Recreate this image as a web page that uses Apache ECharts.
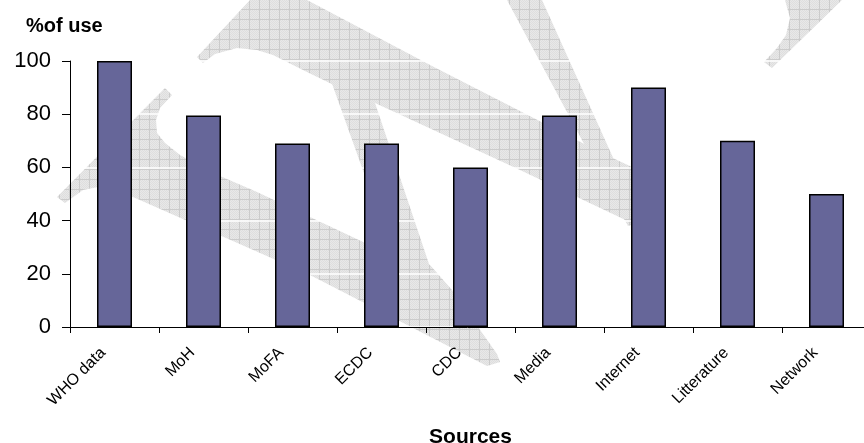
<!DOCTYPE html>
<html><head><meta charset="utf-8">
<script src="https://cdn.jsdelivr.net/npm/echarts@6/dist/echarts.min.js"></script>
<style>html,body{margin:0;padding:0;background:#fff}#c{width:864px;height:443px}</style>
</head><body><div id="c"></div>
<script>
const categories = ['WHO data','MoH','MoFA','ECDC','CDC','Media','Internet','Litterature','Network'];
const useValues = [100, 79.5, 69, 69, 60, 79.5, 90, 70, 50];
const yTicks = [0, 20, 40, 60, 80, 100];
const yTitle = '%of use';
const xTitle = 'Sources';

// watermark texture
const pc = document.createElement('canvas'); pc.width = 10; pc.height = 10;
const g = pc.getContext('2d');
g.fillStyle = '#e8e8e8'; g.fillRect(0,0,10,10);
g.fillStyle = '#dedede';
for (let i=0;i<10;i++) for (let j=0;j<10;j++) if ((i+j)%2===0) g.fillRect(i,j,1,1);
g.fillStyle = '#cbcbcb'; g.fillRect(9,0,1,10); g.fillRect(0,9,10,1);
const wmFill = {image: pc, repeat: 'repeat'};

const wmShapes = [
  [[250,0],[307,0],[432,66],[600,152],[634,168],[634,224],[520,170],[375,103],[340,88],[307,72],[273,55],[257,50],[237,48],[215,54],[203,63],[197,57]],
  [[507,0],[542,0],[642,222],[628,226]],
  [[330,78],[375,103],[432,273],[395,260]],
  [[165,88],[57,197],[65,203],[83,190],[98,187],[115,190],[133,197],[310,275],[487,366],[500,362],[497,354],[452,290],[430,265],[397,258],[310,217],[257,192],[213,173],[180,155],[165,143],[157,133],[156,120],[160,108],[172,95]],
  [[785,0],[842,0],[772,68],[764,62],[777,48],[786,35],[790,18]]
];

const chart = echarts.init(document.getElementById('c'));
chart.setOption({
  animation: false,
  backgroundColor: '#fff',
  textStyle: {fontFamily: "'Liberation Sans', Arial, sans-serif"},
  title: {text: yTitle, left: 21, top: 11, textStyle: {fontSize: 20, fontWeight: 'bold', color: '#000', fontFamily: "'Liberation Sans', Arial, sans-serif"}},
  graphic: wmShapes.map(p => ({type: 'polygon', silent: true, z: -10, shape: {points: p}, style: {fill: wmFill}})),
  grid: {left: 70, right: -7, top: 61, bottom: 116, containLabel: false, outerBoundsMode: 'none'},
  xAxis: {
    type: 'category', data: categories, boundaryGap: true,
    name: xTitle, nameLocation: 'middle', nameGap: 100,
    nameTextStyle: {fontSize: 21, fontWeight: 'bold', color: '#000'},
    axisLine: {lineStyle: {color: '#000', width: 1}},
    axisTick: {show: true, length: 6, inside: false, alignWithLabel: false, lineStyle: {color: '#000'}},
    axisLabel: {rotate: 45, interval: 0, fontSize: 16, color: '#000', margin: 12, padding: [0, 16, 0, 0]}
  },
  yAxis: {
    type: 'value', min: yTicks[0], max: yTicks[yTicks.length-1], interval: yTicks[1]-yTicks[0],
    axisLine: {show: true, lineStyle: {color: '#000', width: 1}},
    axisTick: {show: true, length: 8, inside: false, lineStyle: {color: '#000'}},
    axisLabel: {fontSize: 22, color: '#000', margin: 19},
    splitLine: {show: true, lineStyle: {color: '#fff', width: 1.5}}
  },
  series: [{
    type: 'bar', data: useValues, barWidth: 35,
    itemStyle: {color: '#666699', borderColor: '#000', borderWidth: 1.5}
  }]
});
</script></body></html>
